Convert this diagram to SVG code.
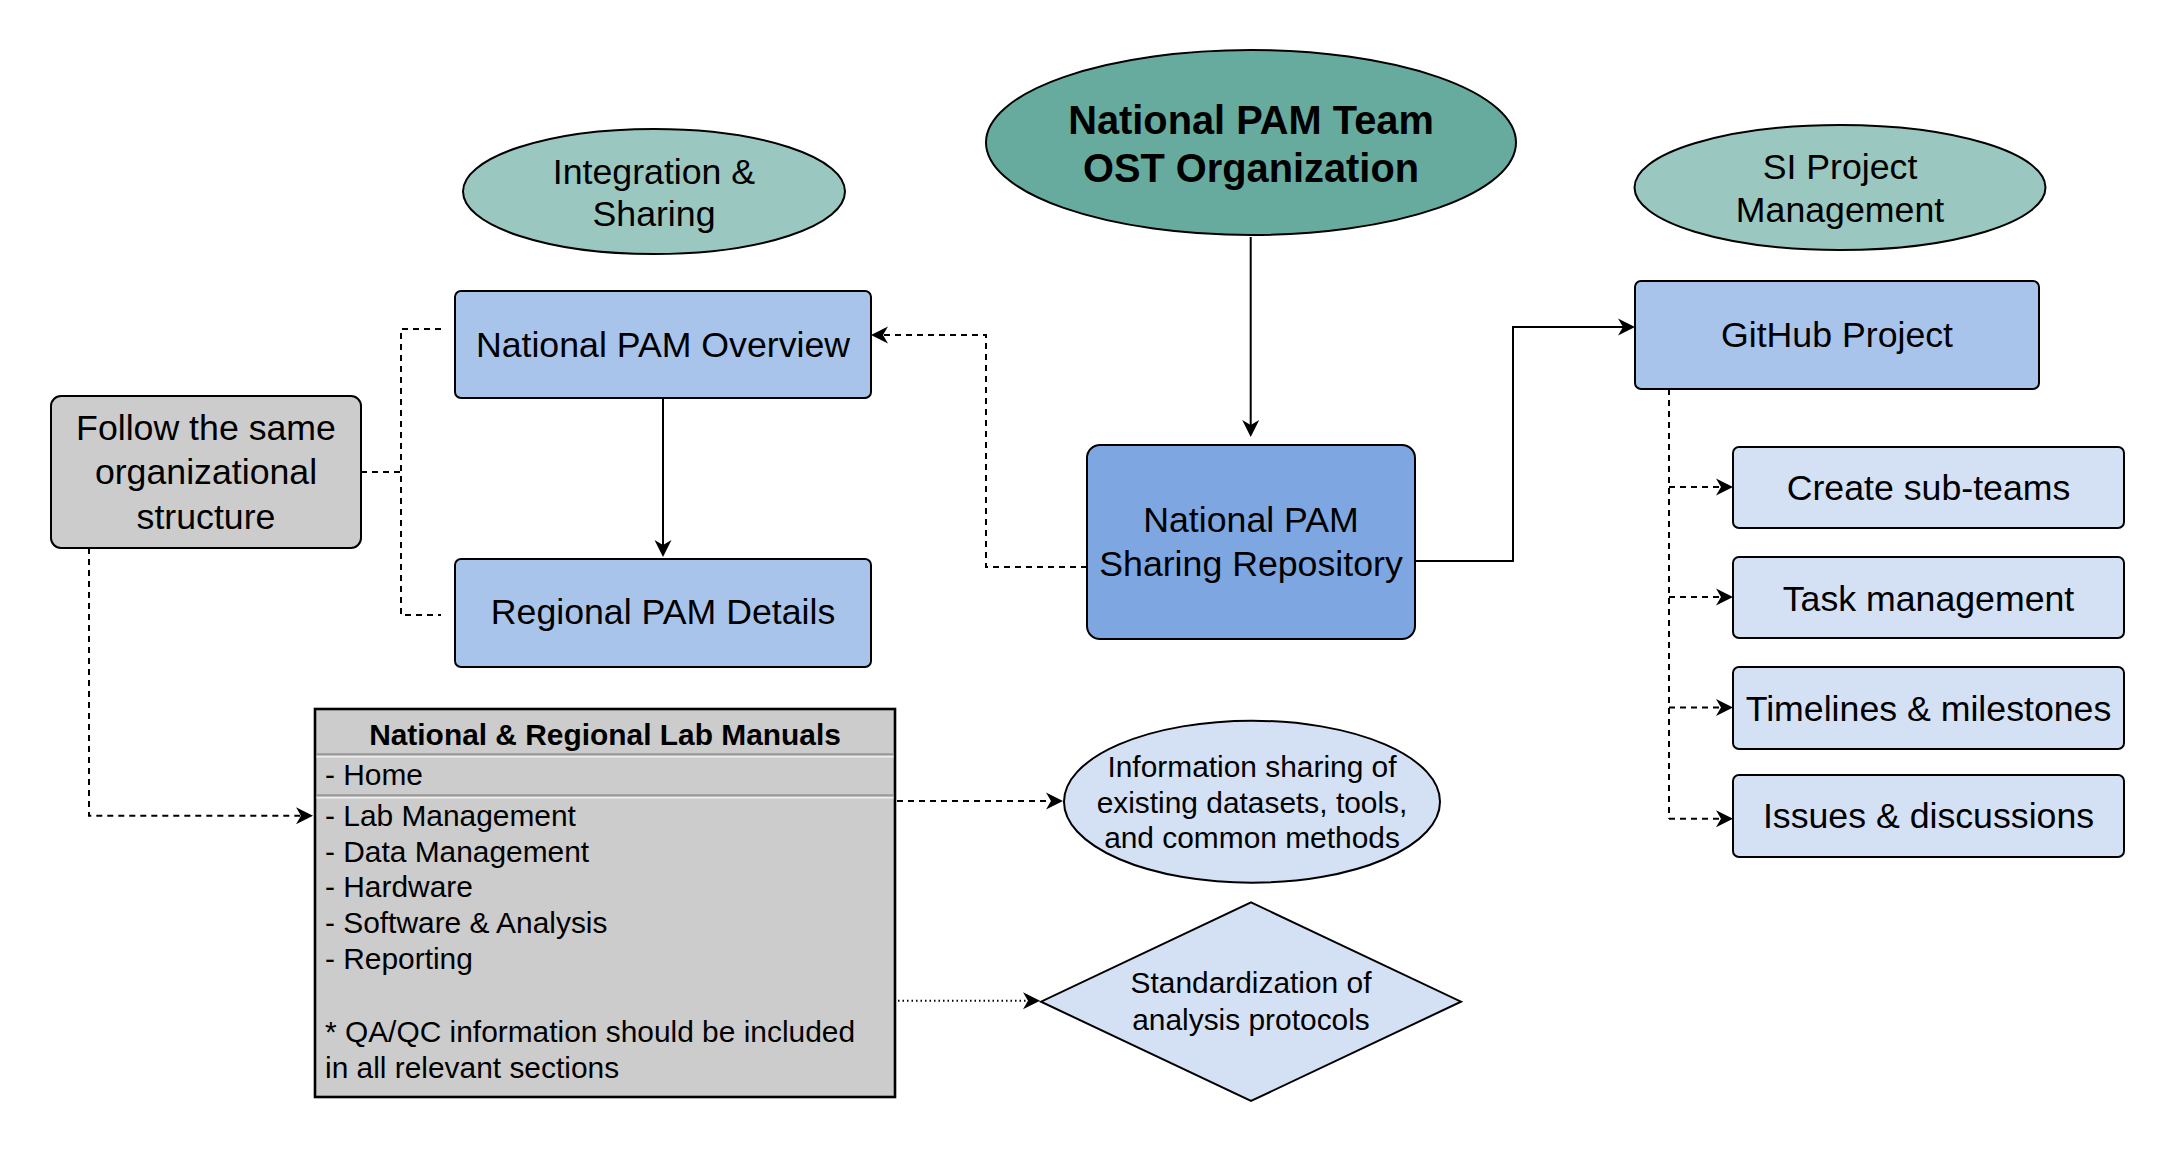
<svg xmlns="http://www.w3.org/2000/svg" width="2176" height="1152" viewBox="0 0 2176 1152">
<style>
text{font-family:"Liberation Sans",Arial,sans-serif;fill:#000}
.m{font-size:35.7px;text-anchor:middle}
.b{font-size:39.8px;font-weight:bold;text-anchor:middle}
.s{font-size:29.9px}
.sc{font-size:29.9px;text-anchor:middle}
.nd{stroke:#000;stroke-width:2}
.c{fill:none;stroke:#000;stroke-width:2}
.d{stroke-dasharray:6 5}
.dt{stroke-dasharray:1.5 3}
</style>
<defs>
<marker id="a" markerUnits="userSpaceOnUse" viewBox="-18 -10 20 20" markerWidth="20" markerHeight="20" refX="-8" refY="0" orient="auto">
<path d="M0,0 L-17,-8.5 L-12,0 L-17,8.5 Z" fill="#000"/>
</marker>
</defs>
<rect width="2176" height="1152" fill="#fff"/>
<g id="connectors">
<path class="c" d="M1250.7,237 V429" marker-end="url(#a)"/>
<path class="c" d="M663,398 V549" marker-end="url(#a)"/>
<path class="c d" d="M1087,567 H986 V335 H879" marker-end="url(#a)"/>
<path class="c" d="M1415,561 H1513 V327 H1627" marker-end="url(#a)"/>
<path class="c d" d="M441,329 H401 V615 H441 M361,472 H401"/>
<path class="c d" d="M89,548 V815.7 H305" marker-end="url(#a)"/>
<path class="c d" d="M1669,389 V818.7"/>
<path class="c d" d="M1669,487 H1725" marker-end="url(#a)"/>
<path class="c d" d="M1669,597 H1725" marker-end="url(#a)"/>
<path class="c d" d="M1669,707.5 H1725" marker-end="url(#a)"/>
<path class="c d" d="M1669,818.7 H1725" marker-end="url(#a)"/>
<path class="c d" d="M897,801 H1055" marker-end="url(#a)"/>
<path class="c dt" d="M898,1000.7 H1032" marker-end="url(#a)"/>
</g>
<g id="nt">
<ellipse class="nd" cx="1251" cy="142.5" rx="265" ry="92.5" fill="#67AB9F"/>
<text class="b" x="1251" y="134">National PAM Team</text>
<text class="b" x="1251" y="182">OST Organization</text>
</g>
<g id="integration">
<ellipse class="nd" cx="654" cy="191.5" rx="191" ry="62.5" fill="#9AC7BF"/>
<text class="m" x="654" y="184">Integration &amp;</text>
<text class="m" x="654" y="226">Sharing</text>
</g>
<g id="si">
<ellipse class="nd" cx="1840" cy="187.5" rx="205.5" ry="62.5" fill="#9AC7BF"/>
<text class="m" x="1840" y="179">SI Project</text>
<text class="m" x="1840" y="222">Management</text>
</g>
<g id="overview">
<rect class="nd" x="455" y="291" width="416" height="107" rx="6" fill="#A9C4EB"/>
<text class="m" x="663" y="357">National PAM Overview</text>
</g>
<g id="regional">
<rect class="nd" x="455" y="559" width="416" height="108" rx="6" fill="#A9C4EB"/>
<text class="m" x="663" y="624">Regional PAM Details</text>
</g>
<g id="follow">
<rect class="nd" x="51" y="396" width="310" height="152" rx="10" fill="#CCCCCC"/>
<text class="m" x="206" y="439.5">Follow the same</text>
<text class="m" x="206" y="484">organizational</text>
<text class="m" x="206" y="528.5">structure</text>
</g>
<g id="repo">
<rect class="nd" x="1087" y="445" width="328" height="194" rx="13" fill="#7EA6E0"/>
<text class="m" x="1251" y="531.7">National PAM</text>
<text class="m" x="1251" y="576">Sharing Repository</text>
</g>
<g id="github">
<rect class="nd" x="1635" y="281" width="404" height="108" rx="6" fill="#A9C4EB"/>
<text class="m" x="1837" y="347">GitHub Project</text>
</g>
<g id="subteams">
<rect class="nd" x="1733" y="447" width="391" height="81" rx="6" fill="#D4E1F5"/>
<text class="m" x="1928.5" y="500">Create sub-teams</text>
</g>
<g id="tasks">
<rect class="nd" x="1733" y="557" width="391" height="81" rx="6" fill="#D4E1F5"/>
<text class="m" x="1928.5" y="610.5">Task management</text>
</g>
<g id="timelines">
<rect class="nd" x="1733" y="667" width="391" height="82" rx="6" fill="#D4E1F5"/>
<text class="m" x="1928.5" y="720.5">Timelines &amp; milestones</text>
</g>
<g id="issues">
<rect class="nd" x="1733" y="775" width="391" height="82" rx="6" fill="#D4E1F5"/>
<text class="m" x="1928.5" y="827.5">Issues &amp; discussions</text>
</g>
<g id="labmanuals">
<rect x="315" y="709" width="580" height="388" fill="#CCCCCC" stroke="#000" stroke-width="2.6"/>
<line x1="316.5" y1="754.3" x2="893.5" y2="754.3" stroke="#999" stroke-width="2"/>
<line x1="316.5" y1="756.8" x2="893.5" y2="756.8" stroke="#eee" stroke-width="1.5"/>
<line x1="316.5" y1="795.3" x2="893.5" y2="795.3" stroke="#999" stroke-width="2"/>
<line x1="316.5" y1="797.8" x2="893.5" y2="797.8" stroke="#eee" stroke-width="1.5"/>
<text class="sc" x="605" y="745" font-weight="bold">National &amp; Regional Lab Manuals</text>
<text class="s" x="325" y="785">- Home</text>
<text class="s" x="325" y="825.7">- Lab Management</text>
<text class="s" x="325" y="861.7">- Data Management</text>
<text class="s" x="325" y="897.3">- Hardware</text>
<text class="s" x="325" y="933.3">- Software &amp; Analysis</text>
<text class="s" x="325" y="969.3">- Reporting</text>
<text class="s" x="325" y="1042.3">* QA/QC information should be included</text>
<text class="s" x="325" y="1077.7">in all relevant sections</text>
</g>
<g id="info">
<ellipse class="nd" cx="1252" cy="801.7" rx="188" ry="81" fill="#D4E1F5"/>
<text class="sc" x="1252" y="777">Information sharing of</text>
<text class="sc" x="1252" y="812.5">existing datasets, tools,</text>
<text class="sc" x="1252" y="848">and common methods</text>
</g>
<g id="standardization">
<polygon class="nd" points="1251,902.3 1461,1001.7 1251,1101 1041,1001.7" fill="#D4E1F5"/>
<text class="sc" x="1251" y="993.3">Standardization of</text>
<text class="sc" x="1251" y="1030">analysis protocols</text>
</g>
</svg>
